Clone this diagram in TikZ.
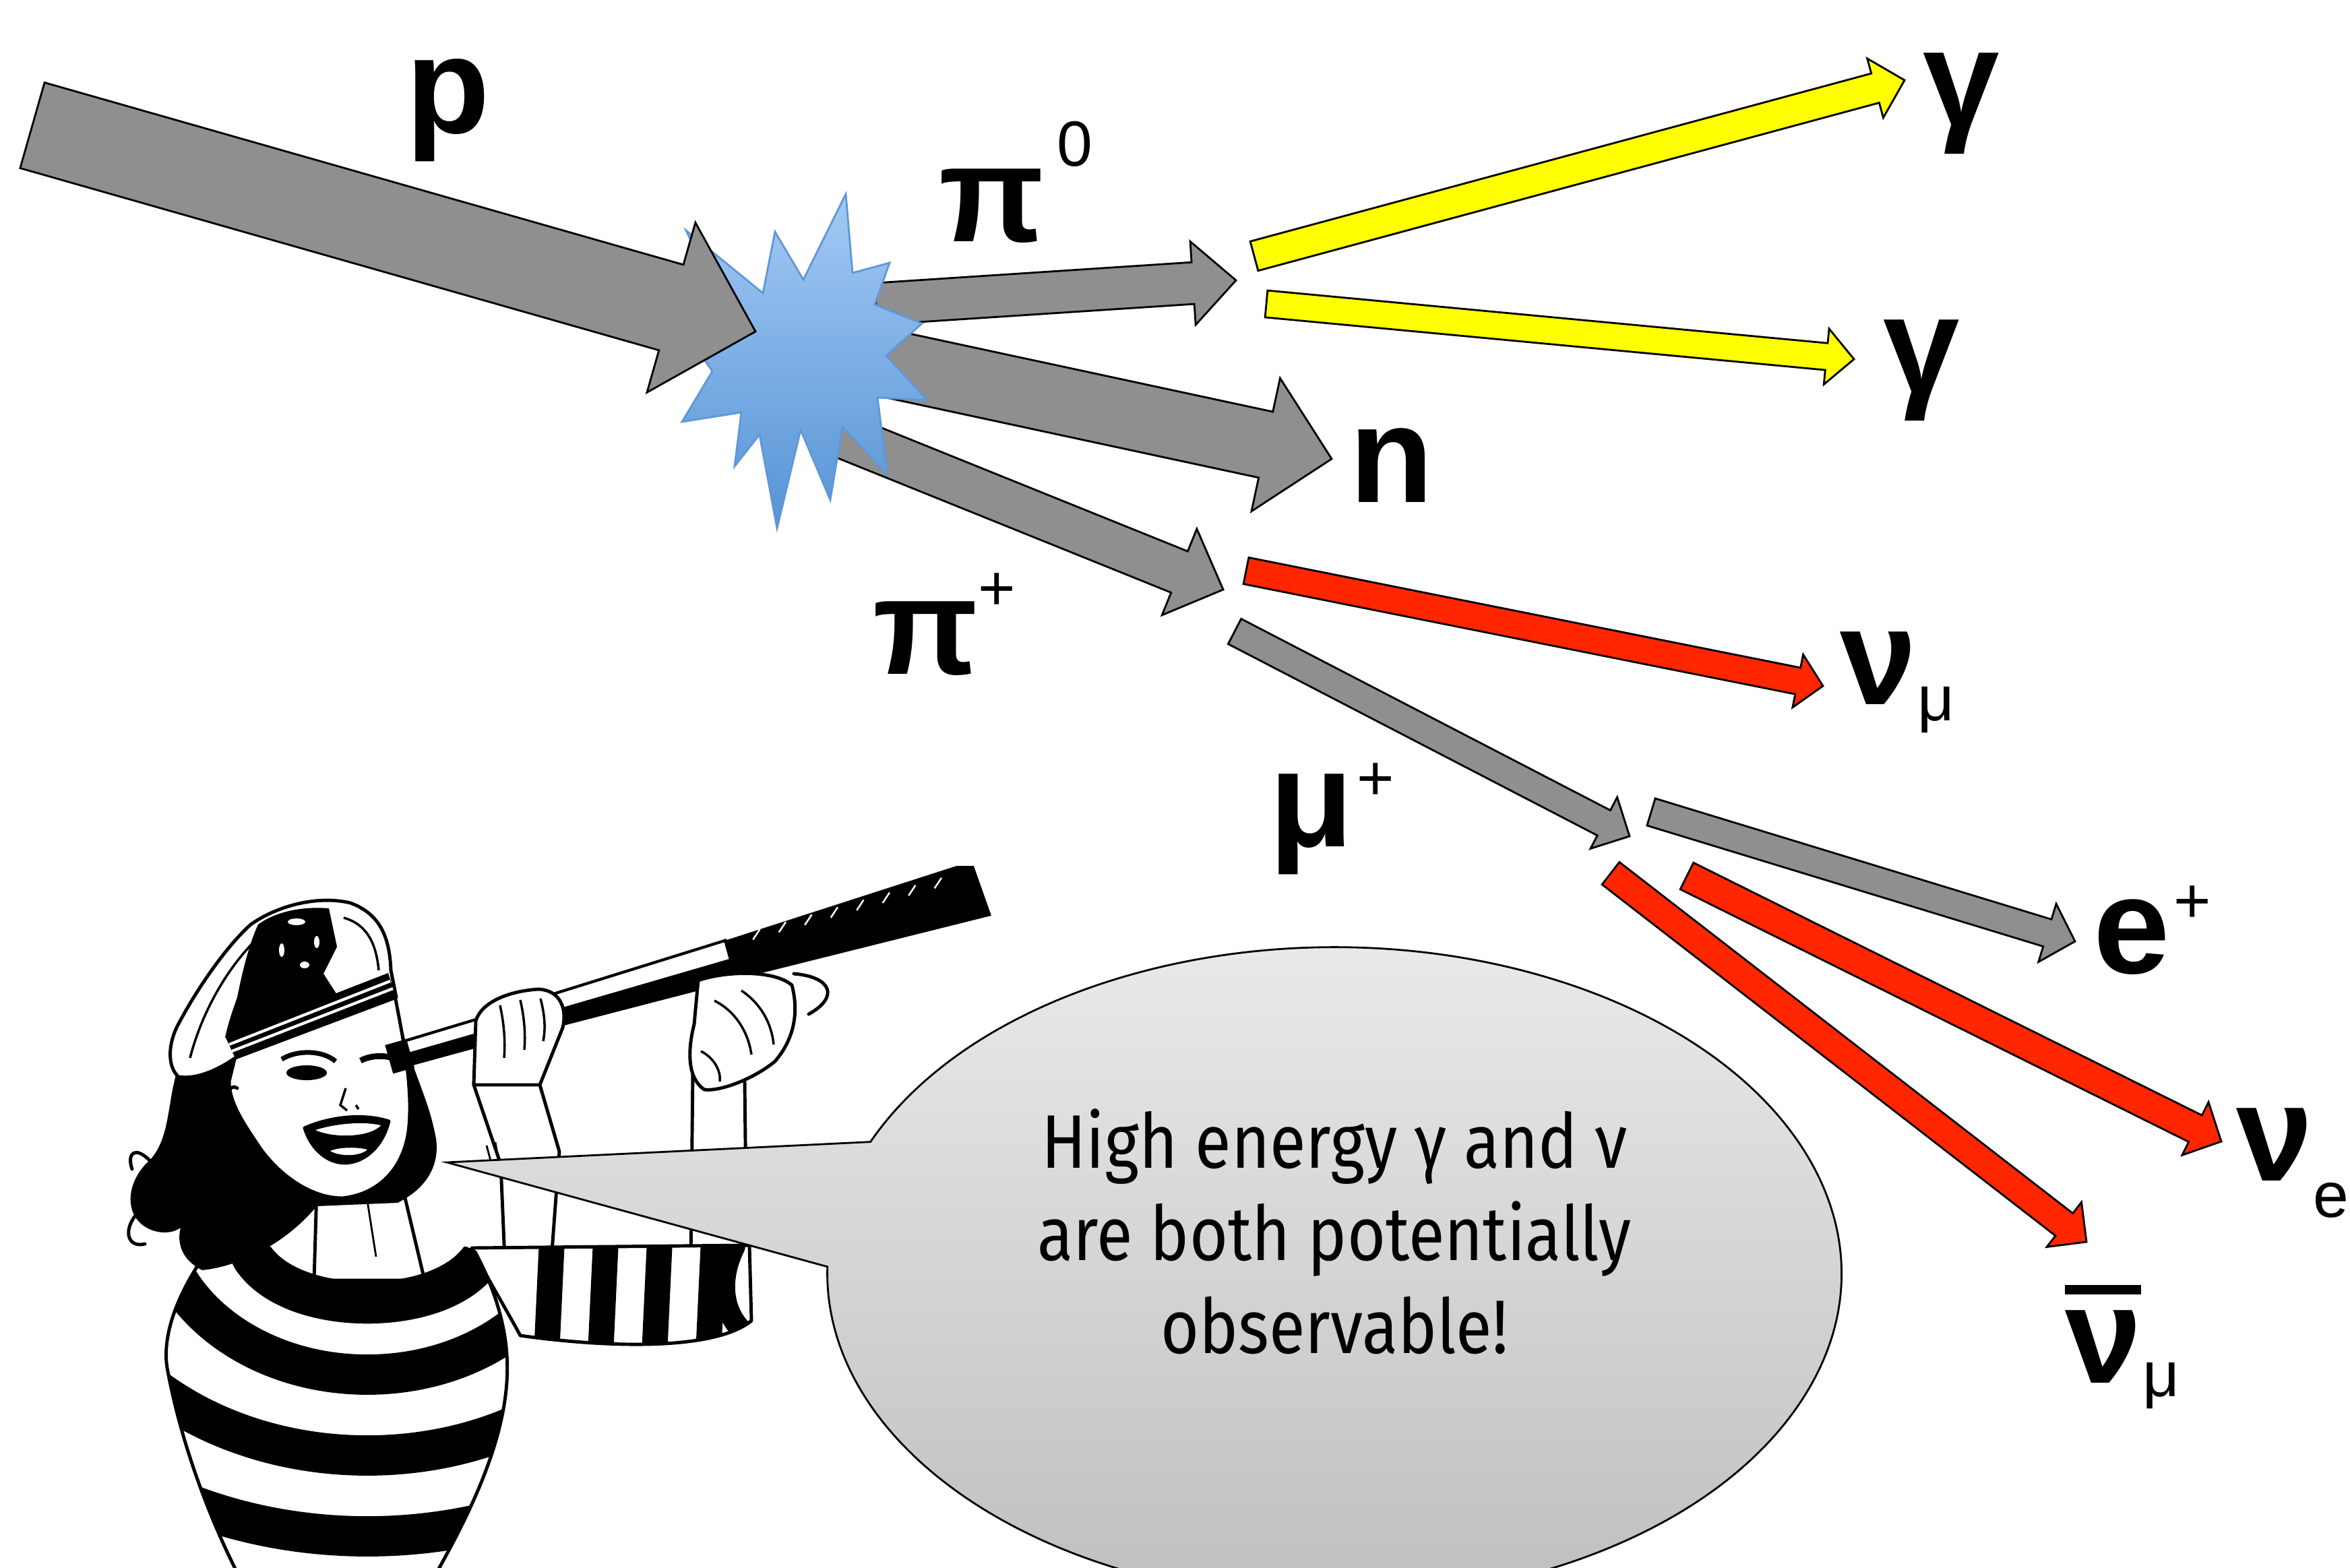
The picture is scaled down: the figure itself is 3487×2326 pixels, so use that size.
\documentclass[tikz,border=0pt]{standalone}
\usepackage{fontspec}
\setmainfont{Liberation Sans}
\newfontfamily\bubblefont[FakeStretch=0.87]{Fira Sans}
\usetikzlibrary{calc}

\definecolor{beamgray}{RGB}{143,143,143}
\definecolor{gammayellow}{RGB}{255,255,0}
\definecolor{nured}{RGB}{255,38,0}
\definecolor{starlight}{RGB}{163,201,244}
\definecolor{stardark}{RGB}{86,148,214}
\definecolor{staredge}{RGB}{96,152,214}
\definecolor{bubbletop}{RGB}{236,236,236}
\definecolor{bubblebot}{RGB}{188,188,188}

% block arrow: #1 tail point, #2 tip point, #3 half shaft width,
% #4 half head width, #5 head length, #6 fill colour
\newcommand{\blockarrow}[6]{%
  \coordinate (hb) at ($(#2)!#5!(#1)$);
  \draw[arrowline, fill=#6]
    ($(#1)!#3!90:(#2)$) -- ($(hb)!#3!90:(#2)$) -- ($(hb)!#4!90:(#2)$) -- (#2)
    -- ($(hb)!#4!-90:(#2)$) -- ($(hb)!#3!-90:(#2)$) -- ($(#1)!#3!-90:(#2)$) -- cycle;}

% particle symbol with a small index: #1 symbol, #2 horizontal offset of the
% index centre, #3 vertical offset of the index baseline, #4 index
\newcommand{\idxfont}{\fontsize{27}{28}\selectfont\mdseries}
\newcommand{\particle}[4]{\makebox[0pt]{#1}\kern#2\makebox[0pt]{\raisebox{#3}{\idxfont #4}}}
\newcommand{\barnu}{\sbox0{ν}\rlap{\raisebox{0.64em}{\rule{\wd0}{0.073em}}}\usebox0}

\begin{document}
\begin{tikzpicture}[x=0.01cm,y=-0.01cm,
  arrowline/.style={draw=black,line width=0.8pt,line join=miter},
  lab/.style={font=\fontsize{58}{60}\selectfont\bfseries,inner sep=0pt,anchor=base},
  plab/.style={font=\fontsize{58}{60}\selectfont\bfseries,inner sep=0pt,anchor=base west},
  ink/.style={draw=black,line width=1.4pt,line join=round,line cap=round},
  ]
\useasboundingbox (0,0) rectangle (3487,2326);
\clip (0,0) rectangle (3487,2326);
\fill[white] (0,0) rectangle (3487,2326);

% ---------- arrow end points ----------
\coordinate (pT) at (48,186);     \coordinate (pH) at (1121,492);
\coordinate (pizT) at (1300,451); \coordinate (pizH) at (1834,416);
\coordinate (nT) at (1311,538);   \coordinate (nH) at (1976,681);
\coordinate (pipT) at (1240,643); \coordinate (pipH) at (1815,875);
\coordinate (gaT) at (1861,380);  \coordinate (gaH) at (2826,119);
\coordinate (gbT) at (1879,451);  \coordinate (gbH) at (2751,533);
\coordinate (numT) at (1849,847); \coordinate (numH) at (2705,1018);
\coordinate (muT) at (1832,937);  \coordinate (muH) at (2418,1241);
\coordinate (epT) at (2450,1205); \coordinate (epH) at (3079,1397);
\coordinate (nueT) at (2503,1300);\coordinate (nueH) at (3296,1694);
\coordinate (nubT) at (2390,1296);\coordinate (nubH) at (3096,1843);

% ---------- products leaving the collision ----------
\blockarrow{pizT}{pizH}{0.31cm}{0.62cm}{0.64cm}{beamgray}
\blockarrow{nT}{nH}{0.50cm}{1.01cm}{1.0cm}{beamgray}
\blockarrow{pipT}{pipH}{0.33cm}{0.69cm}{0.70cm}{beamgray}

% ---------- collision flash ----------
\path[top color=starlight, bottom color=stardark, draw=staredge, line width=0.8pt, line join=miter]
  (1255,288) -- (1265,405) -- (1320,390) -- (1298,452) -- (1368,480) -- (1315,528)
  -- (1376,594) -- (1302,590) -- (1317,705) -- (1250,633) -- (1232,742) -- (1188,638)
  -- (1153,784) -- (1127,645) -- (1090,692) -- (1100,612) -- (1012,626) -- (1057,551)
  -- (1002,472) -- (1072,458) -- (1018,342) -- (1132,435) -- (1150,344) -- (1192,415) -- cycle;

% ---------- incoming proton ----------
\blockarrow{pT}{pH}{0.66cm}{1.31cm}{1.30cm}{beamgray}

% ---------- decays ----------
\blockarrow{gaT}{gaH}{0.225cm}{0.455cm}{0.45cm}{gammayellow}
\blockarrow{gbT}{gbH}{0.20cm}{0.415cm}{0.41cm}{gammayellow}
\blockarrow{numT}{numH}{0.20cm}{0.40cm}{0.38cm}{nured}
\blockarrow{muT}{muH}{0.21cm}{0.43cm}{0.43cm}{beamgray}
\blockarrow{epT}{epH}{0.21cm}{0.45cm}{0.43cm}{beamgray}
\blockarrow{nueT}{nueH}{0.22cm}{0.44cm}{0.43cm}{nured}
\blockarrow{nubT}{nubH}{0.21cm}{0.42cm}{0.42cm}{nured}

% ---------- particle labels ----------
\node[lab] (lp) at (665,197) {p};
\node[plab] (lpiz) at (1471,358) {\particle{π}{1.23cm}{1.11cm}{0}};
\node[plab] (lpip) at (1373,1000) {\particle{π}{1.05cm}{0.94cm}{+}};
\node[lab] (ln) at (2065,745) {n};
\node[lab] (lga) at (2910,186) {γ};
\node[lab] (lgb) at (2851,582) {γ};
\node[plab] (lnum) at (2786,1045) {\particle{ν}{0.86cm}{-0.24cm}{μ}};
\node[plab] (lmu) at (1945,1256) {\particle{μ}{0.95cm}{0.68cm}{+}};
\node[plab] (le) at (3162,1444) {\particle{e}{0.90cm}{0.74cm}{+}};
\node[plab] (lnue) at (3374,1752) {\particle{ν}{0.84cm}{-0.54cm}{e}};
\node[plab] (lnub) at (3120,2052) {\particle{\barnu}{0.86cm}{-0.20cm}{μ}};

% ---------- the observer ----------
% far forearm
\fill[white] (1028,1590) -- (1025,1870) -- (1108,1870) -- (1105,1605) -- cycle;
\draw[ink] (1028,1590) -- (1025,1870);
\draw[ink] (1105,1605) -- (1108,1870);
% near forearm
\fill[white] (709,1518) -- (703,1610) -- (743,1728) -- (749,1870) -- (818,1870) -- (830,1709) -- (801,1610) -- (830,1518) -- cycle;
\draw[ink] (709,1518) -- (703,1610) -- (743,1728) -- (749,1870);
\draw[ink] (830,1518) -- (801,1610) -- (830,1709) -- (818,1870);
\draw[black, line width=0.8pt] (722,1700) -- (730,1730);
\draw[black, line width=0.8pt] (735,1695) -- (740,1725);
% striped upper arm
\draw[ink, fill=white, path picture={
    \foreach \s in {800,880,960,1040}
      \fill[black] (\s,1840) -- (\s+38,1840) -- (\s+30,2010) -- (\s-8,2010) -- cycle;
    \draw[black, line width=9pt] (1090,1850) .. controls (1065,1900) and (1072,1950) .. (1105,1978);
  }]
  (700,1852) -- (1112,1848) -- (1115,1960) .. controls (1060,2005) and (900,2000) .. (772,1982)
  .. controls (755,1950) and (725,1900) .. (700,1852) -- cycle;
% neck
\draw[ink, fill=white] (470,1765) -- (466,1900) -- (630,1900) -- (598,1765) -- cycle;
\draw[black, line width=0.8pt] (545,1782) -- (558,1865);
% striped sweater
\draw[ink, fill=white, path picture={
    \draw[black, line width=34pt] (400,1852) .. controls (450,1922) and (640,1922) .. (690,1852);
    \foreach \r in {250,370,490,610}
      \draw[black, line width=17pt] (545,1790) ellipse [x radius=\r*0.0125cm, y radius=\r*0.01cm];
  }]
  (300,1868) -- (400,1852) .. controls (450,1922) and (640,1922) .. (690,1852) -- (705,1858)
  .. controls (725,1895) and (748,1950) .. (752,2010) .. controls (760,2120) and (700,2240) .. (650,2330)
  -- (350,2330) .. controls (315,2260) and (270,2150) .. (248,2030)
  .. controls (240,1980) and (265,1920) .. (300,1868) -- cycle;
% hair
\fill[black] (262,1592) .. controls (248,1640) and (252,1690) .. (222,1722)
  .. controls (196,1745) and (186,1780) .. (200,1805) .. controls (215,1830) and (250,1835) .. (268,1822)
  .. controls (262,1845) and (270,1870) .. (300,1885) .. controls (350,1880) and (420,1850) .. (470,1790)
  -- (590,1785) .. controls (640,1760) and (655,1720) .. (645,1680)
  .. controls (635,1630) and (612,1590) .. (598,1530) -- (586,1478) -- cycle;
\draw[ink] (222,1722) .. controls (200,1700) and (188,1712) .. (196,1735);
\draw[ink] (200,1805) .. controls (182,1830) and (192,1852) .. (215,1846);
% face
\draw[ink, fill=white] (349,1568) -- (586,1478) .. controls (598,1540) and (612,1610) .. (607,1670)
  .. controls (602,1730) and (565,1772) .. (508,1778) .. controls (455,1778) and (405,1735) .. (380,1695)
  .. controls (360,1665) and (340,1635) .. (340,1605) -- cycle;
\draw[ink] (352,1615) .. controls (338,1605) and (332,1635) .. (352,1662);
\fill[black] (455,1592) ellipse [x radius=0.3cm, y radius=0.11cm];
\draw[black, line width=2pt] (418,1572) .. controls (440,1558) and (478,1558) .. (498,1575);
\draw[black, line width=2.5pt] (535,1574) .. controls (550,1566) and (570,1566) .. (582,1570);
\draw[black, line width=1pt] (513,1615) -- (505,1640) -- (515,1648);
\draw[black, line width=1pt] (528,1640) -- (532,1646);
\draw[ink, fill=black] (452,1674) .. controls (490,1657) and (540,1652) .. (577,1664)
  .. controls (568,1700) and (542,1726) .. (510,1726) .. controls (480,1724) and (460,1700) .. (452,1674) -- cycle;
\fill[white] (468,1677) .. controls (500,1667) and (540,1664) .. (565,1670)
  .. controls (552,1686) and (500,1691) .. (468,1677) -- cycle;
\fill[white] (490,1708) .. controls (505,1702) and (530,1702) .. (545,1706)
  .. controls (535,1716) and (505,1717) .. (490,1708) -- cycle;
% captain's cap
\draw[ink, fill=white] (265,1598) .. controls (250,1585) and (248,1555) .. (262,1525)
  .. controls (285,1480) and (330,1410) .. (372,1372) .. controls (410,1345) and (470,1328) .. (520,1340)
  .. controls (560,1355) and (578,1385) .. (580,1440) -- (588,1480) -- (349,1570)
  .. controls (320,1590) and (290,1602) .. (265,1598) -- cycle;
\draw[black, line width=1pt] (282,1570) .. controls (300,1500) and (340,1430) .. (390,1385);
\draw[black, line width=1pt] (510,1362) .. controls (545,1372) and (558,1400) .. (562,1440);
\fill[black] (383,1372) .. controls (410,1352) and (450,1345) .. (488,1348) -- (500,1405)
  -- (480,1445) -- (500,1476) -- (334,1540)
  .. controls (338,1520) and (345,1500) .. (352,1480) .. controls (360,1440) and (370,1400) .. (383,1372) -- cycle;
\fill[white] (440,1368) ellipse [x radius=0.13cm, y radius=0.05cm];
\fill[white] (418,1410) ellipse [x radius=0.04cm, y radius=0.10cm];
\fill[white] (470,1398) ellipse [x radius=0.04cm, y radius=0.09cm];
\fill[white] (452,1432) ellipse [x radius=0.07cm, y radius=0.05cm];
\fill[black] (334,1538) -- (576,1444) -- (588,1480) -- (349,1570) -- cycle;
\draw[white, line width=1.2pt] (340,1550) -- (579,1456);
\draw[white, line width=1.2pt] (344,1560) -- (583,1467);
% telescope
\begin{scope}[shift={(585,1570)}, rotate=15.8]
  \fill[black] (520,-34) -- (880,-47) -- (905,-40) -- (910,38) -- (520,26) -- cycle;
  \foreach \s in {560,600,...,860}
    \draw[white, line width=0.7pt] (\s,-24) -- (\s+14,-36);
  \draw[black, fill=white, line width=1.2pt] (250,-27) -- (520,-34) -- (520,26) -- (250,20) -- cycle;
  \fill[black] (250,-4) -- (520,-6) -- (520,26) -- (250,20) -- cycle;
  \draw[black, fill=white, line width=1.2pt] (20,-20) -- (250,-24) -- (250,18) -- (20,16) -- cycle;
  \fill[black] (20,-2) -- (250,-3) -- (250,18) -- (20,16) -- cycle;
  \draw[black, line width=2pt] (250,-28) -- (250,22);
  \fill[black] (-8,-22) rectangle (25,22);
\end{scope}
% near hand, fingers wrapped over the tube
\draw[ink, fill=white] (703,1610) -- (706,1515) .. controls (715,1485) and (760,1470) .. (800,1468)
  .. controls (830,1470) and (842,1495) .. (835,1525) -- (801,1610) -- cycle;
\draw[black, line width=1pt] (742,1492) .. controls (748,1520) and (750,1545) .. (748,1570);
\draw[black, line width=1pt] (772,1484) .. controls (778,1510) and (780,1535) .. (778,1558);
\draw[black, line width=1pt] (802,1482) .. controls (808,1505) and (810,1525) .. (806,1545);
% far fist
\draw[ink, fill=white] (1036,1455) .. controls (1080,1440) and (1150,1440) .. (1175,1462)
  .. controls (1185,1500) and (1180,1540) .. (1150,1575) .. controls (1120,1600) and (1070,1620) .. (1045,1617)
  .. controls (1020,1600) and (1020,1560) .. (1030,1520) -- cycle;
\draw[black, line width=1pt] (1060,1485) .. controls (1090,1500) and (1110,1530) .. (1115,1565);
\draw[black, line width=1pt] (1100,1470) .. controls (1130,1490) and (1145,1520) .. (1148,1550);
\draw[black, line width=1pt] (1040,1560) .. controls (1060,1570) and (1070,1590) .. (1068,1605);
\draw[ink] (1178,1445) .. controls (1235,1450) and (1245,1480) .. (1200,1505);

% ---------- speech bubble ----------
\coordinate (bc) at (1980,1890);
\coordinate (btip) at (663,1725);
\path[top color=bubbletop, bottom color=bubblebot, draw=black, line width=0.8pt, line join=miter]
  (btip) -- ($(bc)+(156.2:7.52cm and 4.84cm)$)
  arc[start angle=156.2, end angle=-181.2, x radius=7.52cm, y radius=4.84cm] -- cycle;
\node[font=\bubblefont\fontsize{32}{39}\selectfont, align=center, inner sep=0pt, anchor=base]
  (say) at (1980,2008) {High energy γ and ν\\are both potentially\\observable!};
\end{tikzpicture}
\end{document}
